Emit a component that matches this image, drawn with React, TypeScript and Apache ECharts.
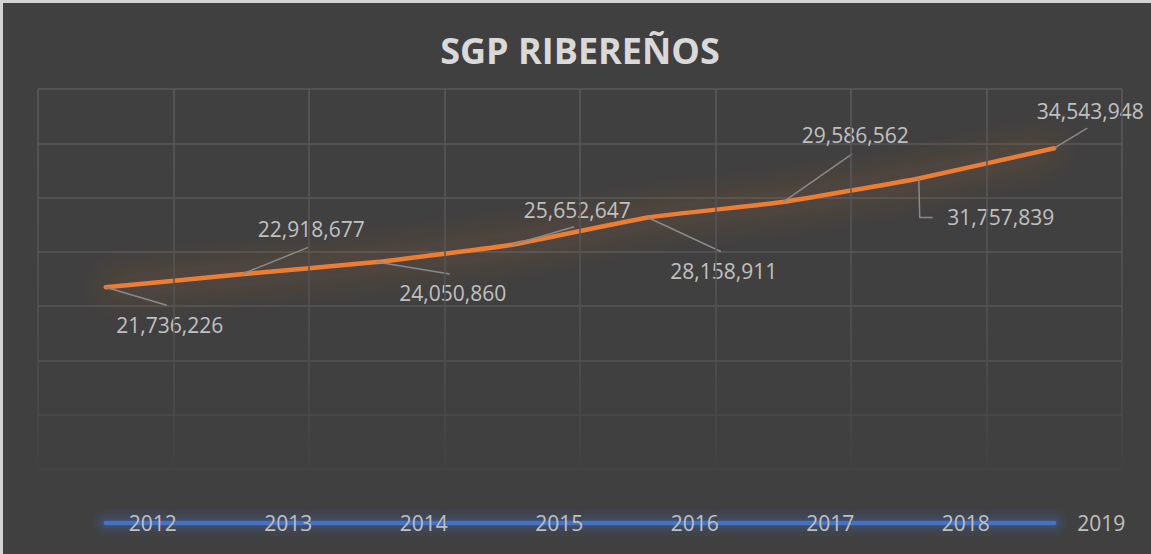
import React, { useEffect, useRef } from 'react';
import * as echarts from 'echarts';

// ---- data ----
const years = ['2012', '2013', '2014', '2015', '2016', '2017', '2018', '2019'];
const sgpValues = [21736226, 22918677, 24050860, 25652647, 28158911, 29586562, 31757839, 34543948];
const baselineValues = [0, 0, 0, 0, 0, 0, 0, 0];
const yMin = 0;
const yMax = 40000000;
const yStep = 5000000;
const chartTitle = 'SGP RIBEREÑOS';

// ---- label placement (style only: offset of each label from its point) ----
const labelOffsets: [number, number][] = [
  [64, 38],
  [70, -45],
  [76, 31],
  [65, -35],
  [76, 54],
  [72, -67],
  [82, 39],
  [36, -37],
];
// leader line vertices, relative to each point (style only)
const leaderPaths: [number, number][][] = [
  [[61, 18]],
  [[67, -27]],
  [[73, 12]],
  [[62, -18]],
  [[73, 34]],
  [[69, -48]],
  [[1, 39], [14, 39]],
  [[33, -20]],
];

const FONT = "'Open Sans', 'Noto Sans', sans-serif";

export default function App() {
  const ref = useRef<HTMLDivElement>(null);

  useEffect(() => {
    if (!ref.current) return;
    const chart = echarts.init(ref.current, null, { renderer: 'svg' });

    const vGrad = new echarts.graphic.LinearGradient(
      0, 89, 0, 523,
      [
        { offset: 0, color: '#5a5a5a' },
        { offset: 0.5, color: '#535353' },
        { offset: 0.75, color: '#4a4a4a' },
        { offset: 0.89, color: '#404040' },
        { offset: 1, color: '#404040' },
      ],
      true
    );

    const blueGlow = (width: number, alpha: number, z: number) => ({
      type: 'line',
      data: baselineValues,
      clip: false,
      showSymbol: false,
      silent: true,
      z,
      lineStyle: { color: `rgba(68,114,196,${alpha})`, width, cap: 'round' },
      itemStyle: { color: '#4472c4' },
    });

    chart.setOption({
      animation: false,
      backgroundColor: '#404040',
      title: {
        text: chartTitle,
        left: 580,
        top: 32,
        textAlign: 'center',
        padding: 0,
        textStyle: {
          color: '#d9d9d9',
          fontSize: 36,
          fontWeight: 'bold',
          fontFamily: FONT,
        },
      },
      graphic: [
        { type: 'rect', left: 0, top: 0, shape: { width: 3, height: 554 }, style: { fill: '#d4d4d4' }, silent: true },
        { type: 'rect', left: 0, top: 0, shape: { width: 1151, height: 3 }, style: { fill: '#d4d4d4' }, silent: true },
      ],
      grid: { left: 38, right: 29, top: 89, bottom: 31 },
      xAxis: {
        type: 'category',
        data: years,
        boundaryGap: true,
        z: 8,
        axisLine: { show: false },
        axisTick: { show: false },
        splitLine: { show: true, lineStyle: { color: vGrad, width: 1.5 } },
        axisLabel: {
          interval: 0,
          color: '#c0c0c0',
          fontSize: 21,
          fontFamily: FONT,
          align: 'left',
          verticalAlign: 'middle',
          margin: 0,
          padding: [0, 0, 0, 23],
        },
      },
      yAxis: {
        type: 'value',
        min: yMin,
        max: yMax,
        interval: yStep,
        axisLine: { show: false },
        axisTick: { show: false },
        axisLabel: { show: false },
        splitLine: {
          show: true,
          lineStyle: {
            width: 1.5,
            color: ['rgba(0,0,0,0)', '#454545', '#4b4b4b', '#525252', '#565656', '#585858', '#595959', '#595959', '#595959'],
          },
        },
      },
      series: [
        blueGlow(26, 0.07, 2),
        blueGlow(18, 0.09, 2),
        blueGlow(11, 0.14, 2),
        {
          name: 'Base',
          type: 'line',
          data: baselineValues,
          clip: false,
          showSymbol: false,
          z: 3,
          lineStyle: { color: '#4472c4', width: 4.5, cap: 'round' },
          itemStyle: { color: '#4472c4' },
        },
        {
          name: 'SGP',
          type: 'line',
          data: sgpValues,
          clip: false,
          smooth: 0.12,
          symbol: 'circle',
          symbolSize: 2,
          showSymbol: true,
          z: 4,
          itemStyle: { color: '#ed7d31' },
          lineStyle: {
            color: '#ed7d31',
            width: 4.5,
            cap: 'round',
            join: 'round',
            shadowBlur: 34,
            shadowColor: 'rgba(237,125,49,0.8)',
          },
          label: {
            show: true,
            position: 'inside',
            color: '#c0c0c0',
            fontSize: 21,
            fontFamily: FONT,
            textBorderWidth: 0,
            formatter: (p: any) => Number(p.value).toLocaleString('en-US'),
          },
          labelLayout: (p: any) => ({
            dx: labelOffsets[p.dataIndex][0],
            dy: labelOffsets[p.dataIndex][1],
          }),
        },
        {
          name: 'Leaders',
          type: 'custom',
          data: sgpValues.map((v, i) => [i, v]),
          encode: { x: 0, y: 1 },
          clip: false,
          silent: true,
          z: 6,
          renderItem: (params: any, api: any) => {
            const i = params.dataIndex;
            const p = api.coord([api.value(0), api.value(1)]);
            const pts = [p, ...leaderPaths[i].map(([dx, dy]) => [p[0] + dx, p[1] + dy])];
            return {
              type: 'polyline',
              shape: { points: pts },
              style: { stroke: '#8a8a8a', lineWidth: 1.5, fill: 'none' },
            };
          },
        },
      ],
    });

    return () => chart.dispose();
  }, []);

  return (
    <div
      ref={ref}
      style={{ position: 'fixed', left: 0, top: 0, width: 1151, height: 554 }}
    />
  );
}
